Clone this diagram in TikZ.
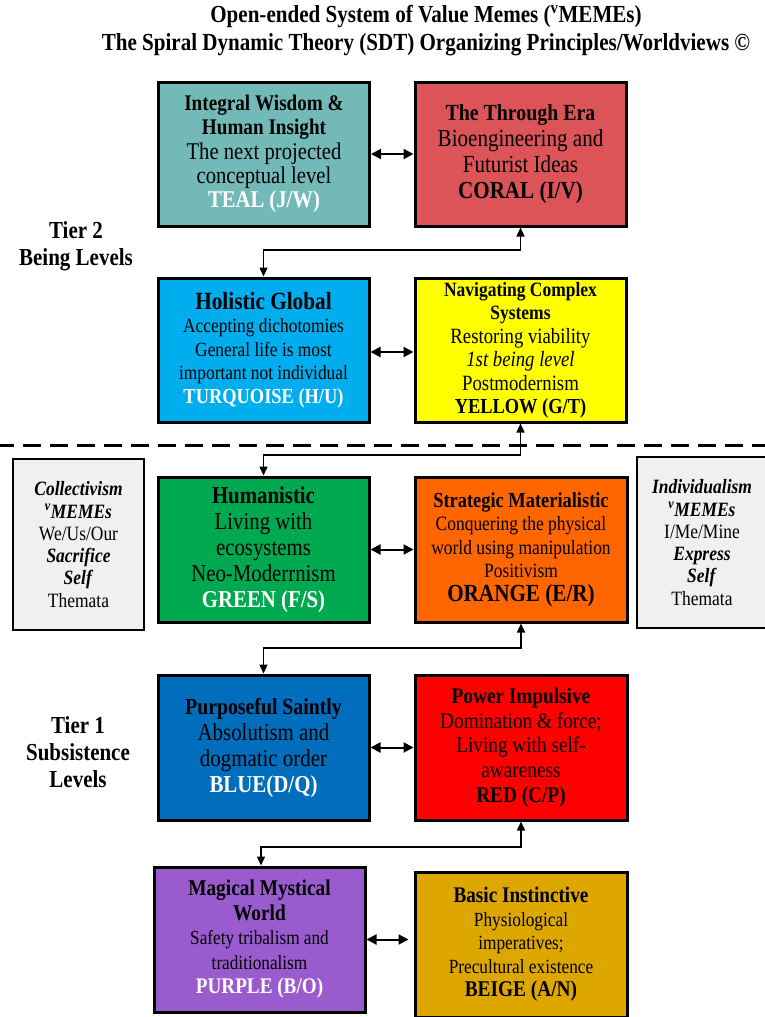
\documentclass[tikz,border=0pt]{standalone}
\usepackage{fontspec}
\setmainfont{Liberation Serif}[FakeStretch=0.86]
\usetikzlibrary{arrows.meta}
\definecolor{cTeal}{RGB}{115,185,184}
\definecolor{cCoral}{RGB}{221,84,88}
\definecolor{cTurq}{RGB}{0,174,239}
\definecolor{cYellow}{RGB}{255,255,0}
\definecolor{cGreen}{RGB}{0,168,80}
\definecolor{cOrange}{RGB}{255,102,0}
\definecolor{cBlue}{RGB}{0,109,189}
\definecolor{cRed}{RGB}{255,0,0}
\definecolor{cPurple}{RGB}{153,91,206}
\definecolor{cBeige}{RGB}{221,167,0}
\definecolor{cSide}{RGB}{240,240,240}
\newcommand{\fz}[2]{\fontsize{#1}{#2}\selectfont}
\begin{document}
\begin{tikzpicture}[x=1pt,y=-1pt,
  lvl/.style={draw=black, line width=3pt, align=center, inner sep=0pt,
    minimum width=211pt, minimum height=144pt, text=black},
  sidebox/.style={draw=black, line width=2.5pt, fill=cSide, align=center, inner sep=0pt,
    minimum width=131pt, minimum height=171pt, font=\fz{20.3}{22.3}},
  link/.style={line width=1.5pt, {Triangle[length=9pt,width=8pt]}-{Triangle[length=9pt,width=8pt]}},
  duo/.style={line width=2pt, {Triangle[length=10pt,width=10pt]}-{Triangle[length=10pt,width=10pt]}},
  tier/.style={font=\bfseries\fz{24.4}{27}, align=center},
  wlab/.style={}]
\clip (0,0) rectangle (765,1017);
\fill[white] (0,0) rectangle (765,1017);

% title
\node[font=\bfseries\fz{24.5}{28}, align=center] (title) at (426,31)
  {Open-ended System of Value Memes (\textsuperscript{v}MEMEs)\\
   The Spiral Dynamic Theory (SDT) Organizing Principles/Worldviews ©};

% tier labels
\node[tier] (tier2) at (76,246) {Tier 2\\Being Levels};
\node[tier] (tier1) at (78,752) {Tier 1\\Subsistence\\Levels};

% dashed separator
\draw[line width=3pt, dash pattern=on 18pt off 9pt] (-4,445) -- (770,445);

% level boxes
\node[lvl, fill=cTeal, font=\fz{24}{24.3}] (teal) at (264,154)
  {{\bfseries\fz{22.3}{24.3}Integral Wisdom \&}\\{\bfseries\fz{22.3}{24.3}Human Insight}\\The next projected\\conceptual level\\{\bfseries\color{white}TEAL (J/W)}};
\node[lvl, fill=cCoral, font=\fz{24.5}{26}] (coral) at (520.5,154)
  {{\bfseries\fz{23.1}{26}The Through Era}\\Bioengineering and\\Futurist Ideas\\{\bfseries CORAL (I/V)}};
\node[lvl, fill=cTurq, font=\fz{20.2}{23.5}] (turq) at (263.5,350)
  {{\bfseries\fz{24.7}{23.5}Holistic Global}\\Accepting dichotomies\\General life is most\\important not individual\\{\bfseries\fz{21.4}{23.5}\color{white}TURQUOISE (H/U)}};
\node[lvl, fill=cYellow, font=\fz{21.8}{23.5}] (yellow) at (520.5,350)
  {{\bfseries\fz{20.3}{23.5}Navigating Complex}\\{\bfseries\fz{20.3}{23.5}Systems}\\Restoring viability\\\textit{1st being level}\\Postmodernism\\{\bfseries\fz{21.4}{23.5}YELLOW (G/T)}};
\node[lvl, fill=cGreen, font=\fz{24.2}{26}, minimum height=145pt] (green) at (263.5,549.5)
  {{\bfseries Humanistic}\\Living with\\ecosystems\\Neo-Moderrnism\\{\bfseries\color{white}GREEN (F/S)}};
\node[lvl, fill=cOrange, font=\fz{20.3}{23.5}, minimum width=212pt, minimum height=145pt] (orange) at (521,549.5)
  {{\bfseries\fz{21.4}{23.5}Strategic Materialistic}\\Conquering the physical\\world using manipulation\\Positivism\\{\bfseries\fz{24.6}{23.5}ORANGE (E/R)}};
\node[lvl, fill=cBlue, font=\fz{24.3}{26}, minimum height=145pt] (blue) at (263.5,747.5)
  {{\bfseries\fz{23}{26}Purposeful Saintly}\\Absolutism and\\dogmatic order\\{\bfseries\color{white}BLUE(D/Q)}};
\node[lvl, fill=cRed, font=\fz{22.4}{24.7}, minimum width=212pt, minimum height=145pt] (red) at (521,747.5)
  {{\bfseries Power Impulsive}\\Domination \& force;\\Living with self-\\awareness\\{\bfseries RED (C/P)}};
\node[lvl, fill=cPurple, font=\fz{20}{24.5}, minimum height=145pt] (purple) at (259.5,939.5)
  {{\bfseries\fz{22.5}{24.5}Magical Mystical}\\{\bfseries\fz{22.5}{24.5}World}\\Safety tribalism and\\traditionalism\\{\bfseries\fz{22.3}{24.5}\color{white}PURPLE (B/O)}};
\node[lvl, fill=cBeige, font=\fz{20.1}{23.5}, minimum width=212pt, minimum height=145pt] (beige) at (521,944.5)
  {{\bfseries\fz{22.3}{23.5}Basic Instinctive}\\Physiological\\imperatives;\\Precultural existence\\{\bfseries\fz{22.5}{23.5}BEIGE (A/N)}};

% side boxes
\node[sidebox] (coll) at (78.5,544.5)
  {\textbf{\textit{Collectivism}}\\\textbf{\textit{\textsuperscript{v}MEMEs}}\\We/Us/Our\\\textbf{\textit{Sacrifice}}\\\textbf{\textit{Self}}\\Themata};
\node[sidebox, minimum width=130pt] (indiv) at (702,542.5)
  {\textbf{\textit{Individualism}}\\\textbf{\textit{\textsuperscript{v}MEMEs}}\\I/Me/Mine\\\textbf{\textit{Express}}\\\textbf{\textit{Self}}\\Themata};

% horizontal double arrows
\draw[duo] (teal.east) -- (coral.west);
\draw[duo] (turq.east |- 0,352) -- (yellow.west |- 0,352);
\draw[duo] (green.east) -- (orange.west);
\draw[duo] (blue.east) -- (red.west);
\draw[duo, shorten >=5pt] (purple.east) -- (purple.east -| beige.west);

% vertical connectors between rows
\coordinate (h1) at (0,250);
\coordinate (h2) at (0,455);
\coordinate (h3) at (0,648);
\coordinate (h4) at (0,847);
\draw[link] (coral.south) -- (coral.south |- h1) -| (turq.north);
\draw[link] (yellow.south) -- (yellow.south |- h2) -| (green.north);
\draw[link] (orange.south) -- (orange.south |- h3) -| (blue.north);
\draw[link] (red.south) -- (red.south |- h4) -| ([xshift=1.5pt]purple.north);
\end{tikzpicture}
\end{document}
